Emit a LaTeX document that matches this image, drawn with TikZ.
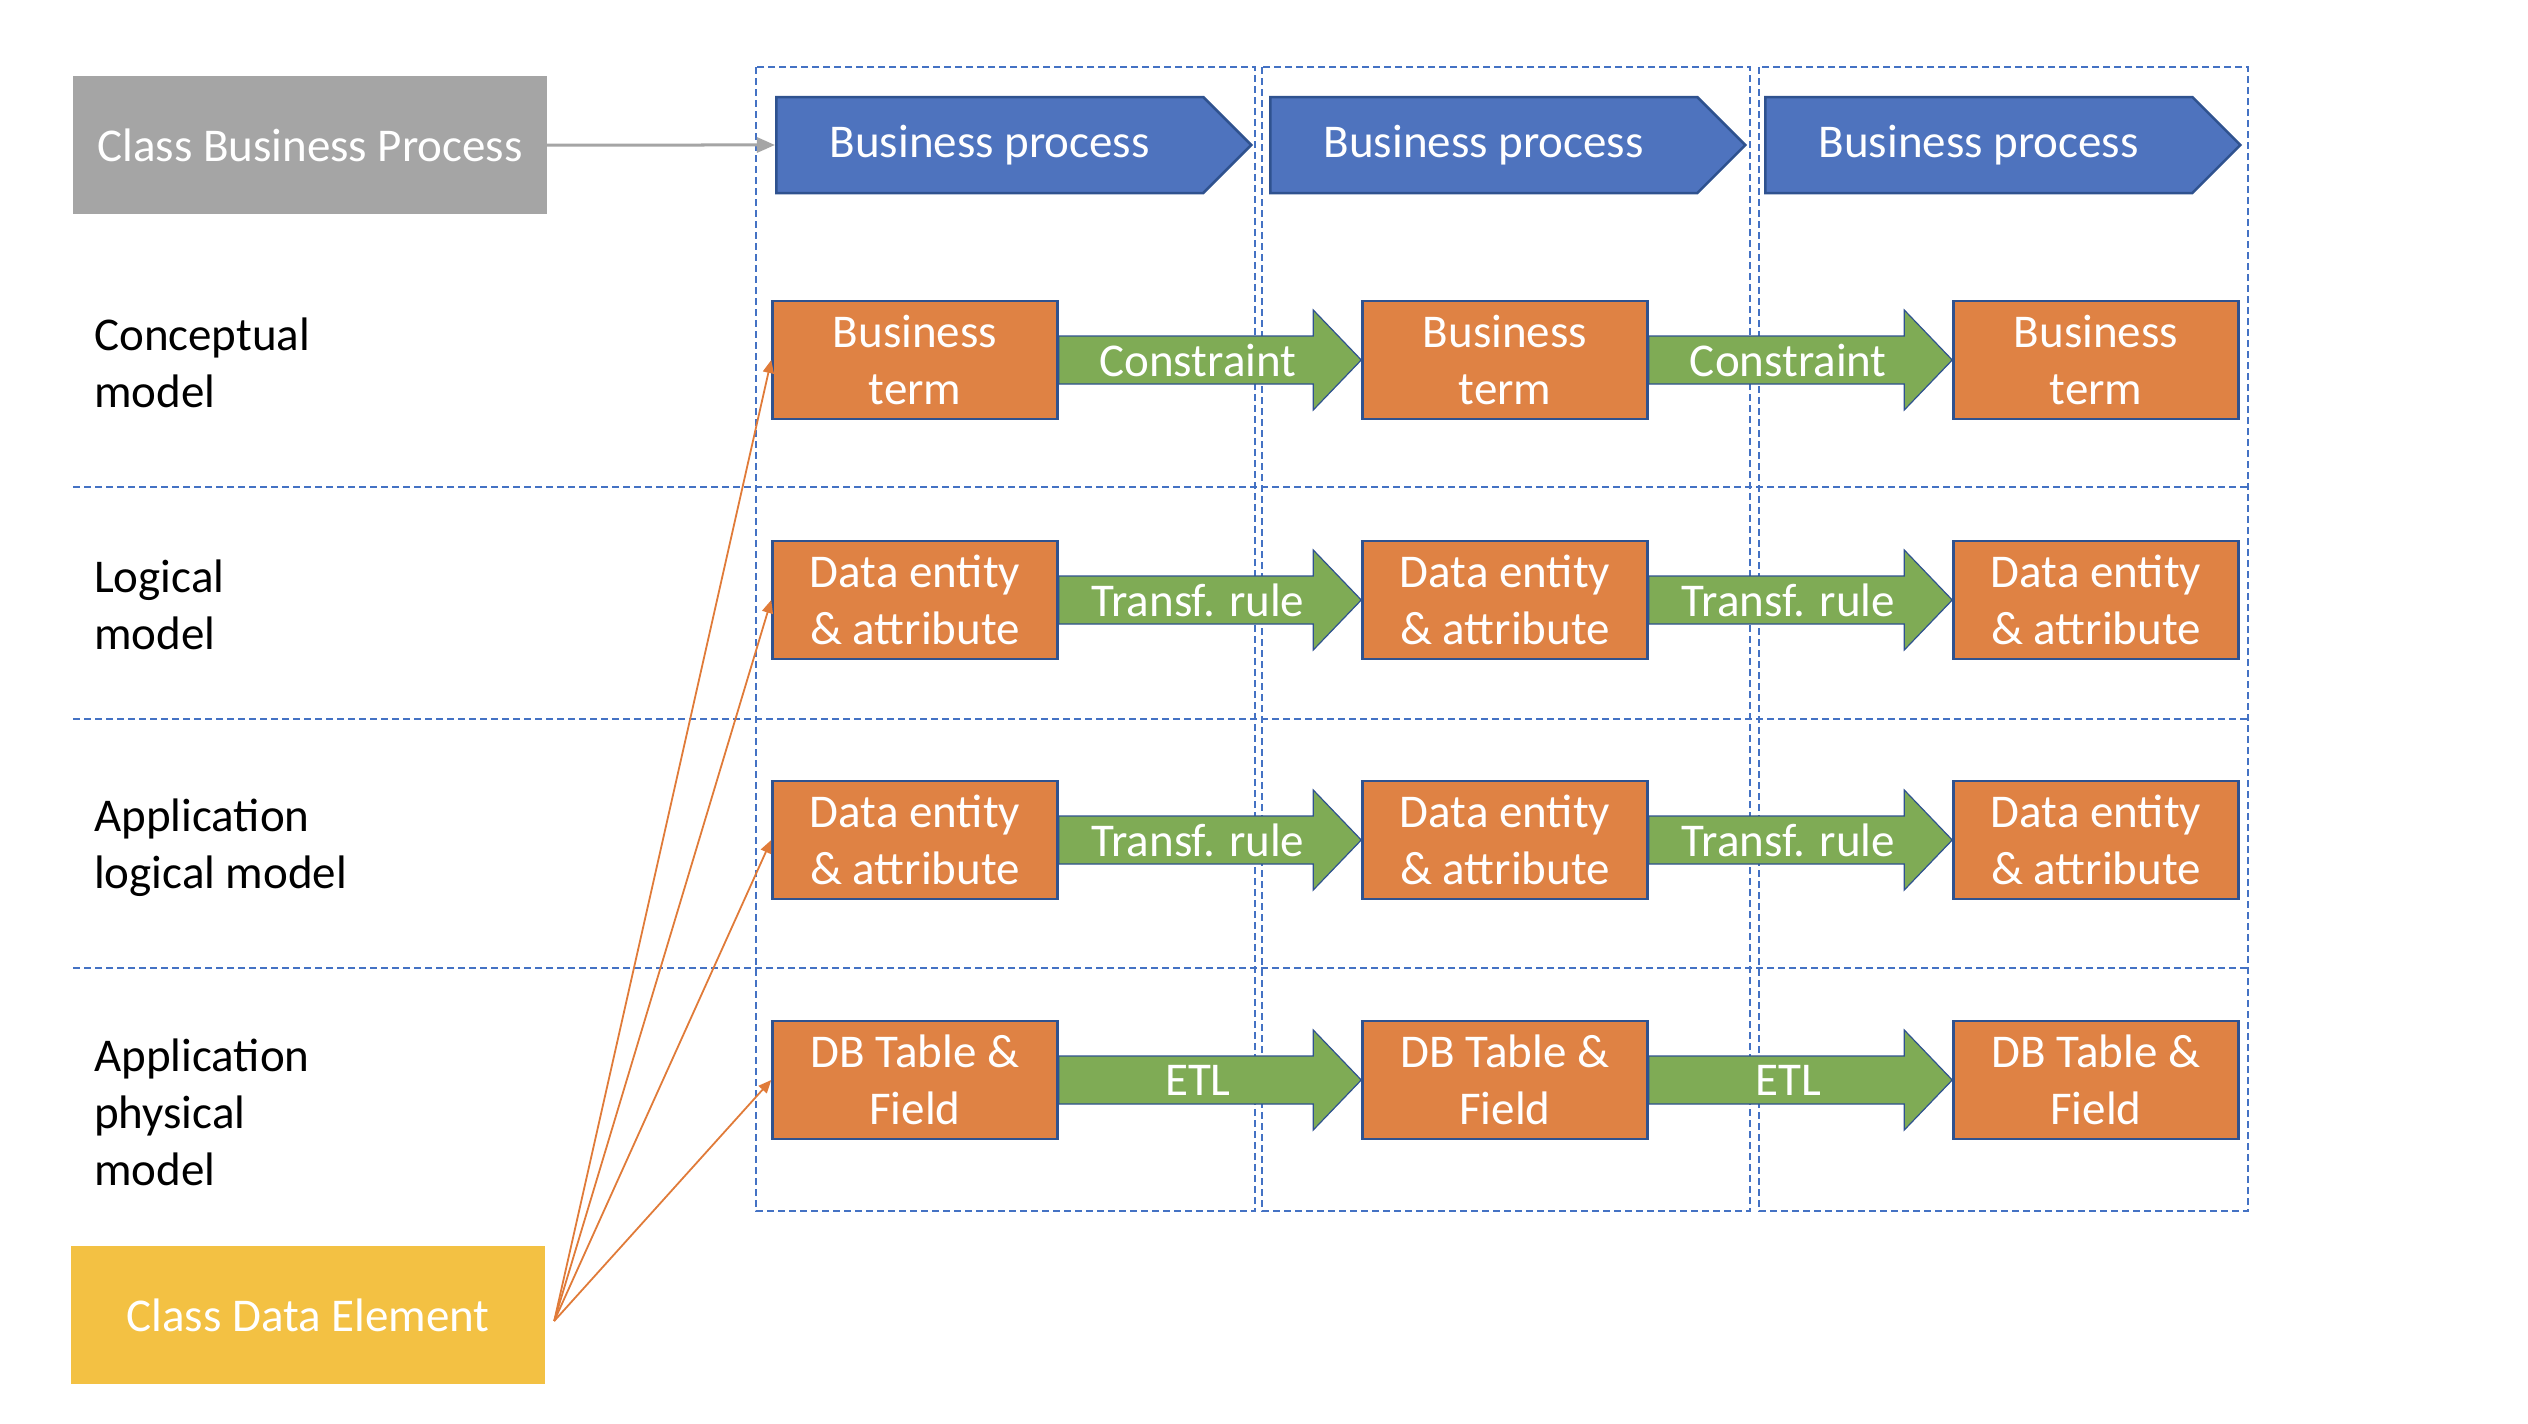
\documentclass[tikz,border=0pt]{standalone}
\usepackage{fontspec}
\setmainfont{Carlito}
\usetikzlibrary{shapes.symbols,arrows.meta,calc}

\definecolor{bpblue}{HTML}{4E73BE}
\definecolor{termorange}{HTML}{DF8244}
\definecolor{rulegreen}{HTML}{7FAB55}
\definecolor{edgeblue}{HTML}{2F528F}
\definecolor{gridblue}{HTML}{4472C4}
\definecolor{classgray}{HTML}{A5A5A5}
\definecolor{classyellow}{HTML}{F3C143}
\definecolor{linkorange}{HTML}{E07B39}

\tikzset{
	gridline/.style={draw=gridblue,line width=2pt,dash pattern=on 7pt off 4pt},
	classbox/.style={minimum width=474pt,minimum height=138pt,inner sep=0pt,text=white},
	process/.style={signal,signal to=east,signal pointer angle=90,anchor=west,draw=edgeblue,line width=2.5pt,fill=bpblue,text=white,minimum width=475pt,minimum height=96pt,inner sep=0pt},
	level/.style={anchor=base west,align=left,inner sep=0pt},
	term/.style={draw=edgeblue,line width=2.5pt,fill=termorange,text=white,minimum width=285pt,minimum height=118pt,align=center,inner sep=0pt},
	rule/.style={fill=rulegreen,draw=edgeblue,line width=1.2pt},
	link/.style={draw=linkorange,line width=1.8pt,-{Triangle[length=13pt,width=11pt]}}
}

\begin{document}
\begin{tikzpicture}[x=1pt,y=-1pt,font=\fontsize{47}{57}\selectfont]
\useasboundingbox (0,0) rectangle (2528,1424);

% columns and levels
\foreach \xa/\xb in {756/1255,1262/1750,1759/2248}
	\draw[gridline] (\xa,67) rectangle (\xb,1211);
\foreach \y in {487,719,968}
	\draw[gridline] (73,\y) -- (2248,\y);

% classes
\node[classbox,fill=classgray] (cbp) at (310,145) {Class Business Process};
\node[classbox,fill=classyellow] (cde) at (308,1315) {Class Data Element};

% business processes
\foreach \i/\x in {1/775,2/1269,3/1764}
	\node[process] (bp\i) at (\x,145) {Business process};
\draw[-{Triangle[length=18pt,width=15pt]},classgray,line width=3pt] (cbp) -- (bp1);

% levels (base = last line)
\node[level] (lcon) at (94,407) {Conceptual\\model};
\node[level] (llog) at (94,649) {Logical\\model};
\node[level] (lapl) at (94,888) {Application\\logical model};
\node[level] (lphy) at (94,1185) {Application\\physical\\model};

% elements and rules
\foreach \r/\y/\txt/\lab in {1/360/{Business\\term}/Constraint,2/600/{Data entity\\\& attribute}/Transf. rule,3/840/{Data entity\\\& attribute}/Transf. rule,4/1080/{DB Table \&\\Field}/ETL}{
	\foreach \c/\x in {1/915,2/1505,3/2096}
		\node[term] (t\r\c) at (\x,\y) {\txt};
	\foreach \a/\b in {1/2,2/3}{
		\draw[rule] ($(t\r\a.east)+(0,-24)$) -- ($(t\r\b.west)+(-48,-24)$) -- ($(t\r\b.west)+(-48,-50)$) -- (t\r\b.west)
			-- ($(t\r\b.west)+(-48,50)$) -- ($(t\r\b.west)+(-48,24)$) -- ($(t\r\a.east)+(0,24)$) -- cycle;
		\node[text=white] (r\r\a) at ($(t\r\a.east)!0.46!(t\r\b.west)$) {\lab};
	}
	\draw[link] ([shift={(9,6)}]cde.east) -- (t\r1.west);
}

\end{tikzpicture}
\end{document}
